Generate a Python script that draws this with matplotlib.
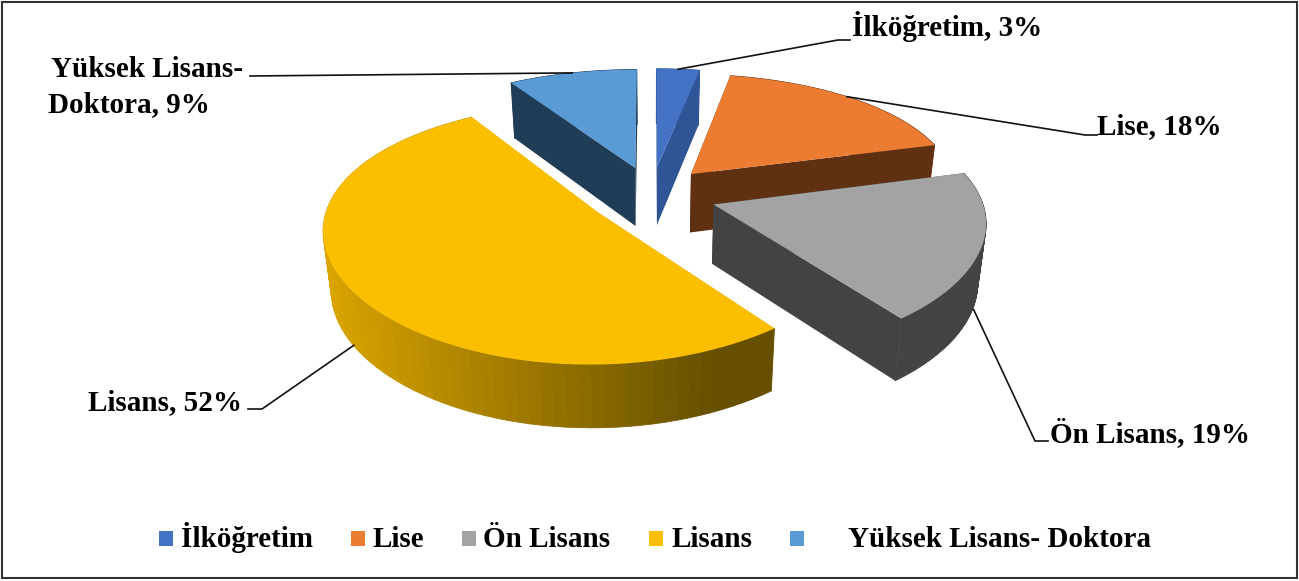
import numpy as np
import matplotlib
matplotlib.use("Agg")
import matplotlib.pyplot as plt
from matplotlib.patches import Polygon, Rectangle
from matplotlib.colors import to_rgb

categories = ["İlköğretim", "Lise", "Ön Lisans", "Lisans", "Yüksek Lisans- Doktora"]
percents = [3, 18, 19, 52, 9]
label_texts = ["İlköğretim, 3%", "Lise, 18%", "Ön Lisans, 19%", "Lisans, 52%", "Yüksek Lisans-\nDoktora, 9%"]

top_colors = ["#4472c4", "#eb7c31", "#a3a3a3", "#fcbf00", "#5b9bd5"]
wall_left = ["#2f5597", "#5f3112", "#434343", "#dba500", "#203d57"]
wall_right = ["#2f5597", "#5f3112", "#434343", "#665000", "#203d57"]

# projection of the pie, everything in image pixels
CX, CY = 651, 195
RX, RY = 267, 122
PERSP_X = 0.12
PERSP_Y = 0.16
DEPTH = 59
explode_x = [0.25, 0.225, 0.245, 0.24, 0.22]
EXPLODE_Y = 0.24


def project(x, y, low=False):
    sx = CX + RX * x / (1 + PERSP_X * y)
    sy = CY - RY * y / (1 + PERSP_Y * y)
    if low:
        sx = CX + (sx - CX) * 0.975
        sy = sy + DEPTH / (1 + 0.06 * y)
    return sx, sy


def offset(i, mid):
    return explode_x[i] * np.sin(mid), EXPLODE_Y * np.cos(mid)


def slice_points(i, a0, a1, low=False):
    ex, ey = offset(i, (a0 + a1) / 2)
    t = np.linspace(a0, a1, 80)
    arc = [project(ex + np.sin(a), ey + np.cos(a), low) for a in t]
    return project(ex, ey, low), arc


fig = plt.figure(figsize=(12.99, 5.81), dpi=100)
ax = fig.add_axes([0, 0, 1, 1])
ax.set_xlim(0, 1299)
ax.set_ylim(581, 0)
ax.axis("off")

ax.add_patch(Rectangle((2, 2), 1295, 576, fill=False, ec="#333333", lw=1.5, zorder=0))

shares = np.array(percents) / sum(percents) * 2 * np.pi
ends = np.cumsum(shares)
starts = ends - shares

# back slices first so the front ones cover them
order = [4, 0, 1, 3, 2]
for z, i in enumerate(order):
    apex, arc = slice_points(i, starts[i], ends[i])
    apex_low, arc_low = slice_points(i, starts[i], ends[i], low=True)
    base = 2 + z
    cut_color = wall_right[i] if i != 3 else wall_left[i]
    for a, b, c, d in [(apex, arc[0], arc_low[0], apex_low), (apex, arc[-1], arc_low[-1], apex_low)]:
        ax.add_patch(Polygon([a, b, c, d], fc=cut_color, ec="none", zorder=base))
    c_right, c_left = np.array(to_rgb(wall_right[i])), np.array(to_rgb(wall_left[i]))
    xs = [p[0] for p in arc]
    for k in range(len(arc) - 1):
        f = (arc[k][0] - min(xs)) / (max(xs) - min(xs))
        col = c_left + (c_right - c_left) * min(1, f * 1.15)
        ax.add_patch(Polygon([arc[k], arc[k + 1], arc_low[k + 1], arc_low[k]], fc=col, ec=col, lw=0.6, zorder=base))
    ax.add_patch(Polygon([apex] + arc, fc=top_colors[i], ec="none", zorder=base))

# labels and leader lines
label_pos = [(852, 36), (1097, 134), (1050, 442), (88, 410), (48, 77)]
elbows = [(838, 40), (1085, 135), (1035, 441), (262, 409), (250, 76)]
ends_x = [850, 1097, 1048, 248, 250]
leader_frac = [0.5, 0.48, 0.6, 0.5, 0.5]
leader_drop = [0, 0, 0.8, 0.9, 0]
for i, name in enumerate(label_texts):
    mid = (starts[i] + ends[i]) / 2
    a = starts[i] + leader_frac[i] * shares[i]
    ex, ey = offset(i, mid)
    p = project(ex + np.sin(a), ey + np.cos(a))
    e = elbows[i]
    ax.plot([p[0], e[0], ends_x[i]], [p[1] + DEPTH * leader_drop[i], e[1], e[1]], color="#111111", lw=1.2, zorder=20)
    if "\n" in name:
        first, second = name.split("\n")
        ax.text(label_pos[i][0] + 3, label_pos[i][1], first, family="Liberation Serif", weight="bold", fontsize=21, va="baseline", zorder=21)
        ax.text(label_pos[i][0], label_pos[i][1] + 35, second, family="Liberation Serif", weight="bold", fontsize=21, va="baseline", zorder=21)
    else:
        ax.text(label_pos[i][0], label_pos[i][1], name, family="Liberation Serif", weight="bold", fontsize=21, va="baseline", zorder=21)

# legend
swatch_x = [159, 351, 462, 649, 790]
text_x = [181, 373, 483, 672, 848]
for i, name in enumerate(categories):
    ax.add_patch(Rectangle((swatch_x[i], 531), 14, 15, fc=top_colors[i], ec="none"))
    ax.text(text_x[i], 547, name, family="Liberation Serif", weight="bold", fontsize=21, va="baseline", ha="left")

fig.savefig("out.png", dpi=100)
